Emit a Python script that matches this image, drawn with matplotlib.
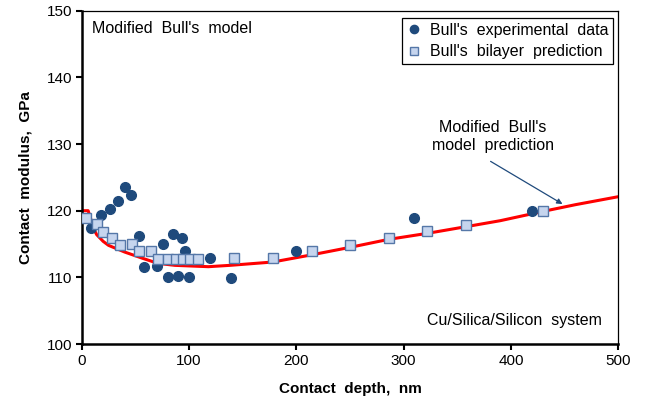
import matplotlib
matplotlib.use("Agg")
import matplotlib.pyplot as plt

plt.rcParams["font.family"] = ["Liberation Sans", "DejaVu Sans"]

# Bull's experimental data (depth nm, modulus GPa)
exp_depth = [8.7, 18.0, 26.4, 33.5, 40.4, 45.9, 53.7, 58.3, 69.9, 75.8, 80.1,
             85.1, 89.7, 93.5, 96.6, 99.7, 119.3, 139.1, 199.7, 309.7, 420.0]
exp_modulus = [117.4, 119.4, 120.2, 121.5, 123.5, 122.4, 116.2, 111.5, 111.7, 115.0, 110.0,
               116.5, 110.2, 115.9, 114.0, 110.0, 112.9, 109.9, 113.9, 118.9, 120.0]

# Bull's bilayer prediction
bil_depth = [4.0, 14.0, 19.9, 28.5, 35.7, 46.9, 53.4, 64.6, 70.8, 80.1, 87.6,
             94.1, 100.9, 108.4, 142.2, 178.0, 214.9, 250.3, 286.4, 321.8, 358.2, 429.6]
bil_modulus = [118.9, 118.0, 116.8, 115.9, 114.9, 115.0, 114.0, 114.0, 112.8, 112.8, 112.8,
               112.8, 112.8, 112.8, 112.9, 112.9, 113.9, 114.9, 115.9, 116.9, 117.8, 120.0]

# Modified Bull's model prediction curve
mod_depth = [0, 6, 8, 11, 14, 20, 25, 40, 56, 71, 87, 118, 138, 178, 215,
             250, 286, 322, 358, 390, 430, 460, 500]
mod_modulus = [120.0, 120.0, 119.0, 117.3, 116.4, 115.4, 114.8, 113.8, 112.9, 112.1, 111.8,
               111.6, 111.8, 112.3, 113.4, 114.5, 115.7, 116.6, 117.6, 118.5, 119.9, 120.9, 122.1]

fig = plt.figure(figsize=(6.49, 4.01), dpi=100)
ax = fig.add_axes([0.1259, 0.1421, 0.8268, 0.8312])

ax.plot(mod_depth, mod_modulus, color="#ff0000", linewidth=2.2, zorder=2)
ax.plot(exp_depth, exp_modulus, linestyle="none", marker="o", markersize=7,
        color="#1f4a7c", markeredgecolor="#1f4a7c", zorder=3,
        label="Bull's  experimental  data")
ax.plot(bil_depth, bil_modulus, linestyle="none", marker="s", markersize=7,
        markerfacecolor="#c6d5ee", markeredgecolor="#5577a8", markeredgewidth=1.0,
        zorder=4, label="Bull's  bilayer  prediction")

ax.set_xlim(0, 500)
ax.set_ylim(100, 150)
ax.set_xticks([0, 100, 200, 300, 400, 500])
ax.set_yticks([100, 110, 120, 130, 140, 150])
ax.tick_params(direction="out", length=4, width=1.5, labelsize=11, pad=3)

for side in ("left", "bottom"):
    ax.spines[side].set_linewidth(1.8)
for side in ("top", "right"):
    ax.spines[side].set_linewidth(0.9)

ax.set_xlabel("Contact  depth,  nm", fontsize=11, fontweight="bold", labelpad=10)
ax.set_ylabel("Contact  modulus,  GPa", fontsize=11, fontweight="bold", labelpad=10)

leg = ax.legend(loc="upper right", bbox_to_anchor=(0.99, 0.978), borderaxespad=0,
                fontsize=11.5, frameon=True, fancybox=False, framealpha=1,
                edgecolor="black", handlelength=0.8, handletextpad=0.6,
                borderpad=0.3, labelspacing=0.4, markerscale=0.85)
leg.get_frame().set_linewidth(0.9)

ax.text(0.02, 0.947, "Modified  Bull's  model", transform=ax.transAxes,
        fontsize=11.5, ha="left", va="center")
ax.text(0.97, 0.07, "Cu/Silica/Silicon  system", transform=ax.transAxes,
        fontsize=11.5, ha="right", va="center")

ax.text(383, 131.1, "Modified  Bull's\nmodel  prediction", fontsize=11.5,
        ha="center", va="center", linespacing=1.2)
ax.annotate("", xy=(448, 121.0), xytext=(381, 127.4),
            arrowprops=dict(arrowstyle="-|>", color="#1f4a7c", lw=0.9,
                            mutation_scale=8, shrinkA=0, shrinkB=0))

fig.savefig("out.png", dpi=100)
